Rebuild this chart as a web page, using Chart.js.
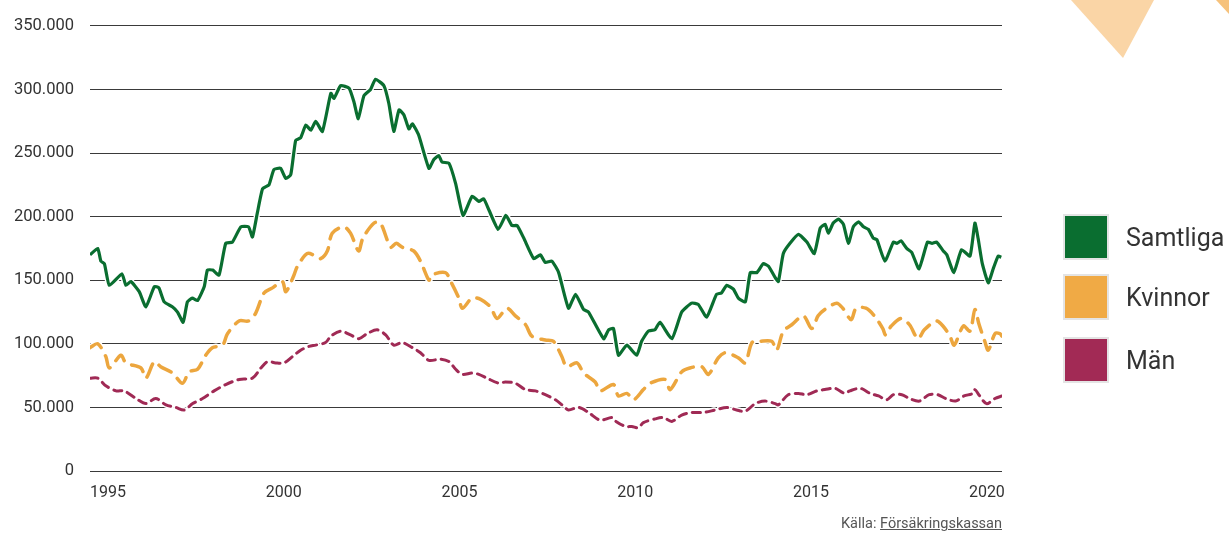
<!DOCTYPE html>
<html>
<head>
<meta charset="utf-8">
<script src="https://cdn.jsdelivr.net/npm/chart.js@4.4.1/dist/chart.umd.min.js"></script>
<style>
  html, body { margin: 0; padding: 0; background: #fff; }
  body { width: 1229px; height: 534px; position: relative; overflow: hidden; font-family: Roboto, "Noto Sans", sans-serif; }
  #wrap { position: absolute; left: 0; top: 0; width: 1229px; height: 534px; }
  #deco { position: absolute; left: 0; top: 0; width: 1229px; height: 534px; pointer-events: none; }
  .leg { position: absolute; left: 1063px; height: 44px; display: flex; align-items: center; }
  .leg .box { width: 42px; height: 42px; border: 2px solid #e4e4e4; box-sizing: content-box; }
  .leg .lab { margin-left: 17px; font-size: 25px; color: #333; }
  #src { position: absolute; right: 227px; top: 515px; font-size: 14.5px; color: #555; }
  #src u { text-decoration: underline; }
</style>
</head>
<body>
<svg id="deco" width="1229" height="534">
  <polygon points="1071,0 1154,0 1123,58" fill="#fad5a6"/>
  <polygon points="1216,0 1229,0 1229,14" fill="#f6c27c"/>
</svg>
<div id="wrap"><canvas id="c" width="1229" height="534"></canvas></div>
<div class="leg" style="top:215px"><div class="box" style="background:#0a6e30"></div><div class="lab">Samtliga</div></div>
<div class="leg" style="top:275px"><div class="box" style="background:#f0aa45"></div><div class="lab">Kvinnor</div></div>
<div class="leg" style="top:338px"><div class="box" style="background:#a22a55"></div><div class="lab">Män</div></div>
<div id="src">Källa: <u>Försäkringskassan</u></div>
<script>
// Values in thousands of persons
const samtligaYears = [1994.49,1994.71,1994.80,1994.90,1995.04,1995.40,1995.51,1995.65,1995.89,1996.08,1996.32,1996.45,1996.60,1996.84,1996.98,1997.14,1997.26,1997.40,1997.55,1997.74,1997.83,1997.98,1998.16,1998.35,1998.54,1998.78,1999.00,1999.11,1999.25,1999.40,1999.58,1999.72,1999.91,2000.06,2000.20,2000.34,2000.48,2000.63,2000.77,2000.91,2001.10,2001.34,2001.43,2001.62,2001.86,2002.00,2002.12,2002.28,2002.47,2002.61,2002.85,2002.99,2003.13,2003.28,2003.42,2003.56,2003.66,2003.84,2004.13,2004.27,2004.41,2004.50,2004.70,2004.89,2005.10,2005.36,2005.55,2005.69,2005.84,2006.10,2006.32,2006.49,2006.64,2006.83,2007.11,2007.30,2007.44,2007.63,2007.82,2008.10,2008.30,2008.53,2008.67,2009.10,2009.24,2009.38,2009.52,2009.76,2010.04,2010.18,2010.37,2010.56,2010.70,2011.04,2011.32,2011.60,2011.79,2012.03,2012.31,2012.45,2012.60,2012.79,2012.93,2013.13,2013.27,2013.46,2013.64,2013.79,2013.98,2014.07,2014.21,2014.40,2014.64,2014.88,2015.09,2015.26,2015.40,2015.49,2015.63,2015.78,2015.92,2016.06,2016.20,2016.35,2016.49,2016.63,2016.77,2016.87,2017.10,2017.34,2017.44,2017.56,2017.72,2017.86,2018.07,2018.31,2018.44,2018.57,2018.76,2018.86,2019.06,2019.28,2019.52,2019.66,2019.75,2019.87,2020.04,2020.18,2020.32,2020.41];
const samtligaValues = [170,175,165,163,146,155,146,149,141,129,145,144,133,129,125,117,133,136,134,145,158,158,154,179,180,192,192,184,203,222,225,237,238,230,233,260,262,272,268,275,267,297,293,303,301,290,277,295,300,308,303,289,267,284,280,269,273,264,238,245,248,243,242,226,201,216,212,214,205,190,201,193,193,183,167,170,164,165,156,128,139,127,125,104,111,112,91,99,91,102,110,111,117,104,125,132,131,121,139,140,146,143,136,133,156,156,163,161,152,149,171,179,186,180,171,191,194,187,195,198,194,179,192,196,192,190,183,182,165,180,179,181,175,172,159,180,179,180,173,170,156,174,169,195,183,163,148,159,169,168];

const kvinnorYears = [1994.49,1994.71,1994.94,1995.04,1995.37,1995.51,1995.94,1996.08,1996.32,1996.50,1996.84,1997.12,1997.31,1997.55,1997.78,1997.97,1998.26,1998.40,1998.73,1999.00,1999.20,1999.44,1999.68,1999.96,2000.06,2000.29,2000.39,2000.67,2000.91,2001.05,2001.24,2001.38,2001.71,2001.90,2002.13,2002.25,2002.57,2002.75,2003.04,2003.20,2003.37,2003.70,2003.89,2004.13,2004.20,2004.60,2004.75,2004.98,2005.08,2005.36,2005.60,2005.88,2006.07,2006.35,2006.59,2006.88,2007.06,2007.44,2007.67,2007.91,2008.05,2008.34,2008.53,2008.86,2009.00,2009.38,2009.52,2009.76,2009.95,2010.23,2010.42,2010.85,2010.99,2011.32,2011.55,2011.89,2012.08,2012.36,2012.56,2012.93,2013.13,2013.32,2013.55,2013.88,2014.02,2014.21,2014.45,2014.78,2015.02,2015.20,2015.39,2015.73,2015.90,2016.14,2016.28,2016.56,2016.80,2017.04,2017.12,2017.28,2017.56,2017.80,2018.04,2018.22,2018.56,2018.75,2018.95,2019.07,2019.33,2019.52,2019.66,2019.77,2019.94,2020.04,2020.23,2020.37,2020.43];
const kvinnorValues = [97,100,90,81,91,85,81,73,86,82,77,69,78,80,91,97,99,108,118,118,124,140,144,149,141,154,161,171,169,167,173,187,192,187,173,183,195,195,176,179,176,173,165,150,154,156,149,136,128,136,135,129,120,128,122,115,106,103,102,90,82,85,77,70,63,68,59,61,56,64,69,72,64,78,81,82,76,89,93,89,85,101,102,102,95,110,115,122,112,122,127,132,128,119,128,128,122,112,107,114,120,115,104,111,118,114,106,99,114,110,127,116,102,95,108,108,106];

const manYears = [1994.49,1994.71,1994.94,1995.23,1995.46,1995.80,1996.08,1996.36,1996.65,1996.93,1997.17,1997.41,1997.69,1998.02,1998.35,1998.73,1999.11,1999.35,1999.54,1999.77,2000.01,2000.25,2000.48,2000.72,2000.91,2001.19,2001.34,2001.62,2001.90,2002.14,2002.37,2002.66,2002.90,2003.13,2003.37,2003.66,2003.89,2004.13,2004.46,2004.70,2004.89,2005.08,2005.36,2005.55,2005.78,2006.12,2006.30,2006.59,2006.88,2007.16,2007.44,2007.73,2007.96,2008.10,2008.39,2008.67,2009.00,2009.34,2009.45,2009.72,2009.90,2010.09,2010.23,2010.57,2010.80,2011.04,2011.32,2011.60,2011.94,2012.27,2012.60,2012.88,2013.13,2013.41,2013.69,2013.98,2014.07,2014.35,2014.64,2014.88,2015.16,2015.39,2015.68,2015.96,2016.10,2016.40,2016.68,2016.92,2017.15,2017.34,2017.58,2017.80,2018.08,2018.36,2018.60,2018.83,2019.11,2019.35,2019.60,2019.66,2019.77,2019.99,2020.23,2020.43];
const manValues = [73,73,67,63,63,57,53,57,52,50,48,53,57,63,68,72,73,81,86,85,85,90,95,98,99,101,106,110,107,104,108,111,107,99,101,97,93,87,88,86,80,76,77,76,73,69,70,69,64,63,60,56,51,48,50,46,40,42,39,35,35,34,38,41,42,39,44,46,46,48,50,48,47,53,55,53,52,60,61,60,63,64,65,61,63,65,61,59,56,60,60,57,55,60,60,57,55,59,61,64,60,53,57,59];

const xTickYears = [1995, 2000, 2005, 2010, 2015, 2020];
const yTickValues = [0, 50, 100, 150, 200, 250, 300, 350];

function pts(xs, ys) { return xs.map((x, i) => ({ x: x, y: ys[i] })); }

const GREEN = '#0a6e30', ORANGE = '#eca63e', MAROON = '#a02a55';
const common = { pointRadius: 0, pointHoverRadius: 0, fill: false };

const datasets = [
  Object.assign({ label: 'Samtliga', data: pts(samtligaYears, samtligaValues), borderColor: GREEN, borderWidth: 3.2, tension: 0.15, order: 0 }, common),
  Object.assign({ label: 'Kvinnor', data: pts(kvinnorYears, kvinnorValues), borderColor: ORANGE, borderWidth: 3.5, borderDash: [14, 9], borderCapStyle: 'round', tension: 0.3, order: 1 }, common),
  Object.assign({ label: 'Män', data: pts(manYears, manValues), borderColor: MAROON, borderWidth: 3, borderDash: [8, 6], borderCapStyle: 'round', tension: 0.3, order: 2 }, common),
  // white halos
  Object.assign({ label: 'h1', data: pts(samtligaYears, samtligaValues), borderColor: '#ffffff', borderWidth: 6, tension: 0.15, order: 10 }, common),
  Object.assign({ label: 'h2', data: pts(kvinnorYears, kvinnorValues), borderColor: '#ffffff', borderWidth: 6.5, borderDash: [14, 9], borderCapStyle: 'round', tension: 0.3, order: 11 }, common),
  Object.assign({ label: 'h3', data: pts(manYears, manValues), borderColor: '#ffffff', borderWidth: 6, borderDash: [8, 6], borderCapStyle: 'round', tension: 0.3, order: 12 }, common)
];

new Chart(document.getElementById('c'), {
  type: 'line',
  data: { datasets: datasets },
  options: {
    responsive: false,
    animation: false,
    events: [],
    layout: { padding: { left: 0, right: 227, top: 25, bottom: 0 } },
    plugins: { legend: { display: false }, tooltip: { enabled: false } },
    scales: {
      x: {
        type: 'linear',
        min: 1994.49,
        max: 2020.43,
        afterFit: (s) => { s.height = 63; },
        afterBuildTicks: (s) => { s.ticks = xTickYears.map(v => ({ value: v })); },
        grid: { display: false, drawTicks: false },
        border: { display: false },
        ticks: { padding: 12, color: '#333', font: { family: 'Roboto', size: 16 }, callback: (v) => String(v), maxRotation: 0, autoSkip: false }
      },
      y: {
        min: 0,
        max: 350,
        afterFit: (s) => { s.width = 90; },
        afterBuildTicks: (s) => { s.ticks = yTickValues.map(v => ({ value: v })); },
        grid: { color: '#3a3a3a', lineWidth: 1, drawTicks: false },
        border: { display: false },
        ticks: { padding: 16, color: '#333', font: { family: 'Roboto', size: 16.5 }, callback: (v) => v === 0 ? '0' : v + '.000' }
      }
    }
  }
});
</script>
</body>
</html>
